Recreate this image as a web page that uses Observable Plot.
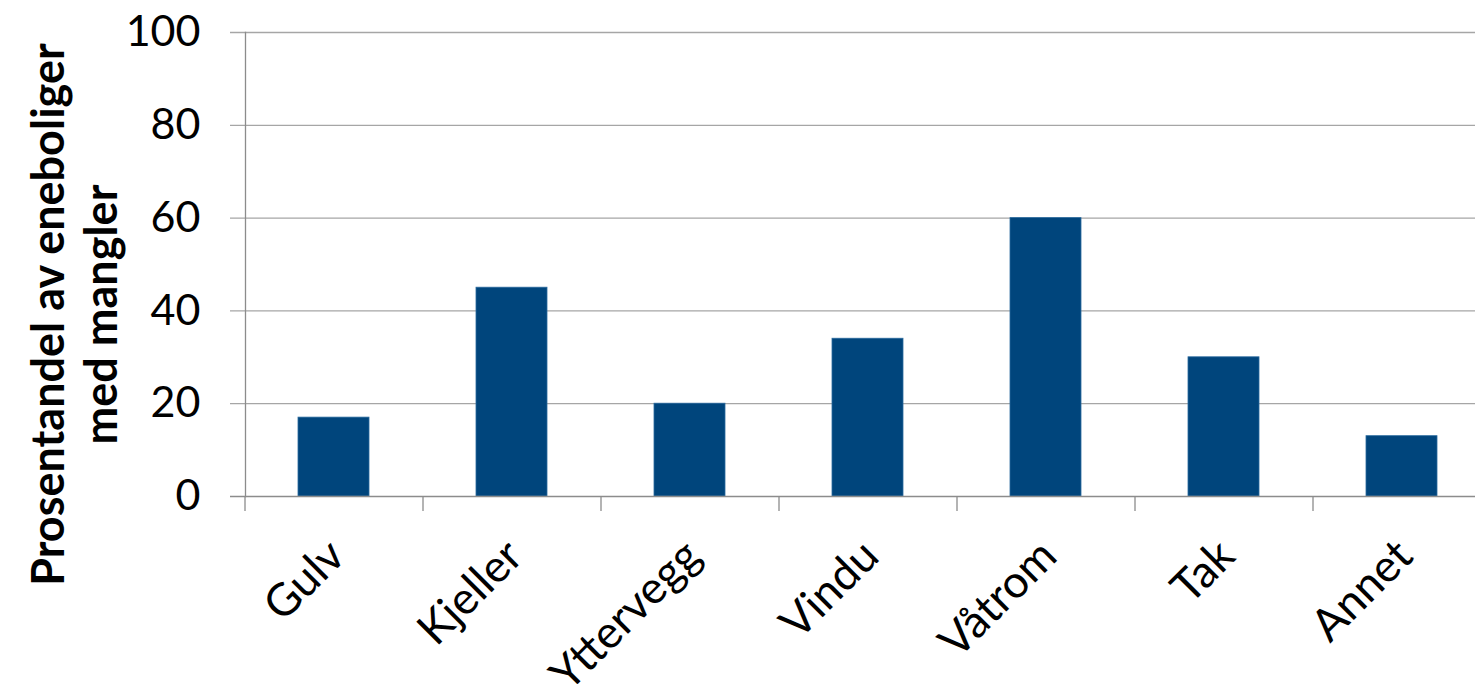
<!DOCTYPE html>
<html>
<head>
<meta charset="utf-8">
<script src="https://cdn.jsdelivr.net/npm/d3@7"></script>
<script src="https://cdn.jsdelivr.net/npm/@observablehq/plot@0.6"></script>
<style>
  html, body { margin: 0; padding: 0; background: #ffffff; }
  #chart svg { display: block; }
</style>
</head>
<body>
<div id="chart"></div>
<script>
const categories = ["Gulv", "Kjeller", "Yttervegg", "Vindu", "Våtrom", "Tak", "Annet"];
const values = [17, 45, 20, 34, 60, 30, 13];
const yTicks = [0, 20, 40, 60, 80, 100];
const yLabel = "Prosentandel av eneboliger\nmed mangler";

const data = categories.map((c, i) => ({category: c, value: values[i]}));

const chart = Plot.plot({
  width: 1475,
  height: 684,
  marginLeft: 245,
  marginRight: 0,
  marginTop: 32,
  marginBottom: 188,
  style: {fontFamily: "Lato, sans-serif", background: "#ffffff", color: "#000000"},
  x: {domain: categories, range: [245, 1491], paddingInner: 0.6, paddingOuter: 0.3, label: null},
  y: {domain: [0, 100], label: null},
  marks: [
    Plot.ruleY(yTicks.filter(d => d > 0), {stroke: "#a6a6a6", strokeWidth: 1.3, insetLeft: -15}),
    Plot.barY(data, {x: "category", y: "value", fill: "#00457c", stroke: "#2a6a9e", strokeWidth: 0.8}),
    Plot.ruleY([0], {stroke: "#8c8c8c", strokeWidth: 1.3, insetLeft: -15}),
    Plot.frame({anchor: "left", stroke: "#8c8c8c", strokeWidth: 1.3}),
    Plot.axisY({ticks: yTicks, tickSize: 0, tickPadding: 45, fontSize: 43, label: null}),
    Plot.axisX({tickSize: 15, dx: -89, tickFormat: () => "", stroke: "#8c8c8c", strokeWidth: 1.3, label: null}),
    Plot.axisX({tickSize: 0, tickRotate: -45, tickPadding: 52, dx: 3, fontSize: 45, label: null}),
    Plot.text([yLabel], {frameAnchor: "left", textAnchor: "middle", lineAnchor: "middle", dx: -172, dy: 50, rotate: -90, fontSize: 45, fontWeight: "bold", lineHeight: 1.18, fill: "#000000"})
  ]
});
document.getElementById("chart").appendChild(chart);
</script>
</body>
</html>
